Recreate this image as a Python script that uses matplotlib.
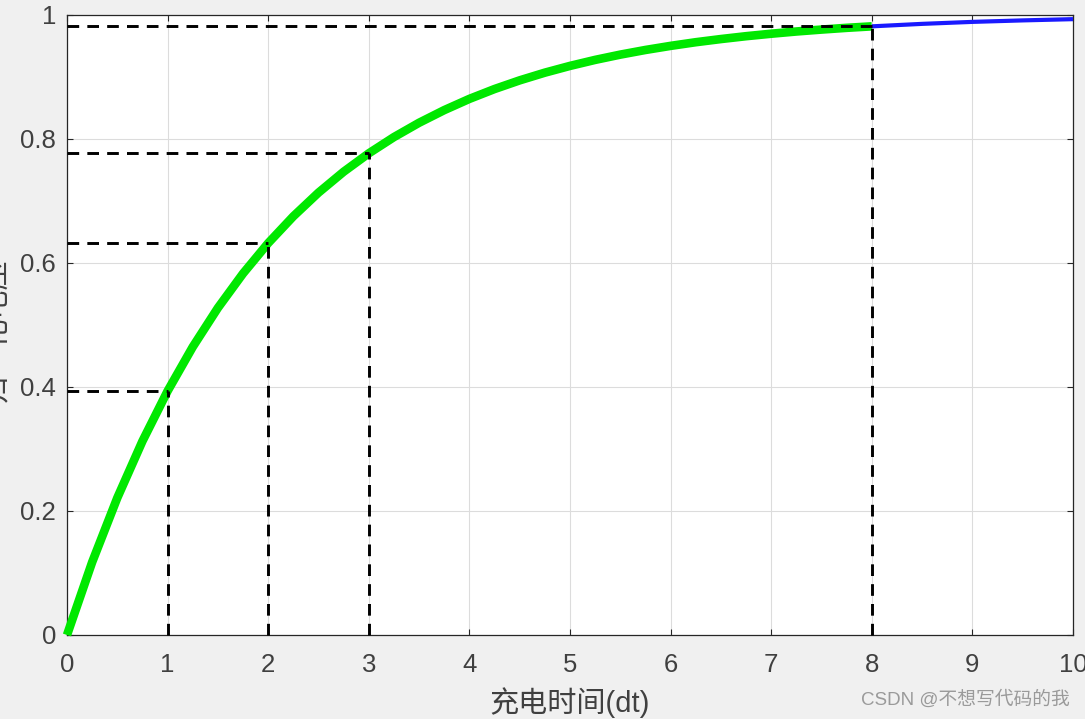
import matplotlib
matplotlib.use("Agg")
import matplotlib.pyplot as plt

# 充电曲线 (读图所得)
t_charge = [0, 0.25, 0.5, 0.75, 1, 1.25, 1.5, 1.75, 2, 2.25, 2.5, 2.75, 3,
            3.25, 3.5, 3.75, 4, 4.25, 4.5, 4.75, 5, 5.25, 5.5, 5.75, 6,
            6.25, 6.5, 6.75, 7, 7.25, 7.5, 7.75, 8]
v_charge = [0, 0.1175, 0.2212, 0.3127, 0.3935, 0.4647, 0.5276, 0.5831, 0.6321,
            0.6753, 0.7135, 0.7472, 0.7769, 0.8031, 0.8262, 0.8466, 0.8647,
            0.8806, 0.8946, 0.9070, 0.9179, 0.9276, 0.9361, 0.9436, 0.9502,
            0.9561, 0.9612, 0.9658, 0.9698, 0.9734, 0.9765, 0.9793, 0.9817]
t_rest = [8, 8.5, 9, 9.5, 10]
v_rest = [0.9817, 0.9857, 0.9889, 0.9913, 0.9933]

t_mark = [1, 2, 3, 8]
v_mark = [0.3935, 0.6321, 0.7769, 0.9817]

xticks = list(range(0, 11))
yticks = [0, 0.2, 0.4, 0.6, 0.8, 1]
ytick_labels = ['0', '0.2', '0.4', '0.6', '0.8', '1']

plt.rcParams['font.family'] = ['Liberation Sans', 'Noto Sans CJK SC', 'DejaVu Sans']

fig = plt.figure(figsize=(10.85, 7.19), dpi=100, facecolor='#f0f0f0')
ax = fig.add_axes([67 / 1085, 84 / 719, 1006 / 1085, 620 / 719])
ax.set_facecolor('white')

ax.plot(t_charge, v_charge, color='#00e800', lw=6.2, solid_capstyle='butt',
        solid_joinstyle='round', clip_on=False, zorder=3)
ax.plot(t_rest, v_rest, color='#1a1aff', lw=3, solid_capstyle='butt',
        clip_on=False, zorder=3)

dash = dict(color='black', lw=2.1, dashes=(4, 2.8), zorder=4, clip_on=False)
for tm, vm in zip(t_mark, v_mark):
    ax.plot([0, tm], [vm, vm], **dash)
    ax.plot([tm, tm], [0, vm], **dash)

ax.set_xlim(0, 10)
ax.set_ylim(0, 1)
ax.set_xticks(xticks)
ax.set_yticks(yticks)
ax.set_yticklabels(ytick_labels)
ax.grid(True, color='#dcdcdc', lw=0.8)
ax.set_axisbelow(True)

for s in ax.spines.values():
    s.set_color('#262626')
    s.set_linewidth(0.9)
ax.tick_params(direction='in', top=True, right=True, length=4, width=0.8,
               colors='#262626', labelsize=18.5, labelcolor='#404040')
ax.tick_params(axis='x', pad=13)
ax.tick_params(axis='y', pad=8)

ax.set_xlabel('充电时间(dt)', fontsize=21, color='#404040', labelpad=7)
fig.text(10 / 1085, 1 - 330 / 719, '归一化电压', rotation=90, ha='right',
         va='center', fontsize=21, color='#404040')

fig.text(1070 / 1085, 1 - 700 / 719, 'CSDN @不想写代码的我', ha='right',
         va='center', fontsize=13.5, color='#9a9a9a')

fig.savefig('out.png', dpi=100, facecolor=fig.get_facecolor())
